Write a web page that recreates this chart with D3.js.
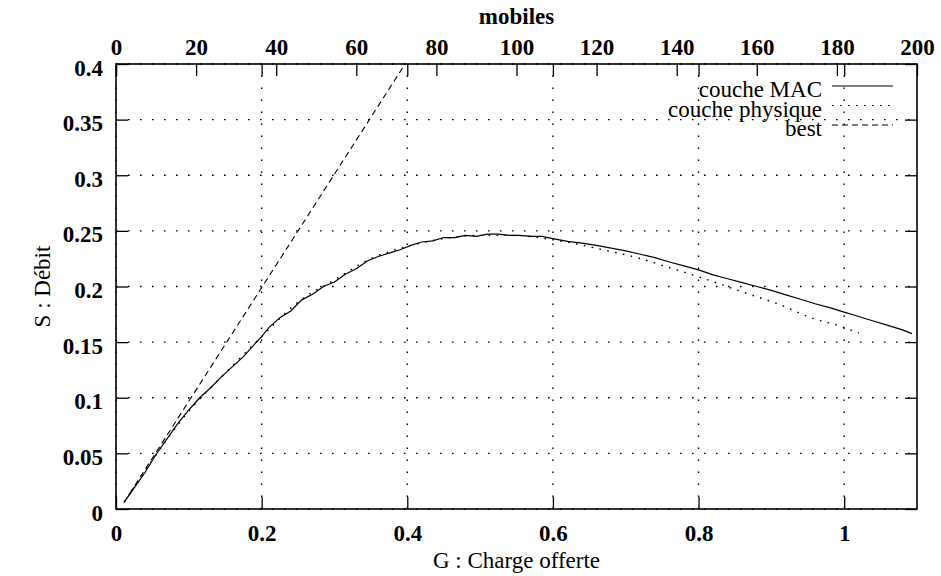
<!DOCTYPE html>
<html>
<head>
<meta charset="utf-8">
<script src="https://cdn.jsdelivr.net/npm/d3@7"></script>
<style>
  html, body { margin: 0; padding: 0; background: #fff; }
  svg { display: block; }
  svg text { font-family: "Liberation Serif", "Times New Roman", Times, Tinos, "Noto Serif", "DejaVu Serif", serif; }
</style>
</head>
<body>
<script>
// Series: [G, S]
const coucheMAC = [
  [0.011, 0.006], [0.025, 0.019], [0.04, 0.033], [0.055, 0.049], [0.07, 0.063],
  [0.085, 0.077], [0.1, 0.089], [0.115, 0.100], [0.13, 0.109], [0.145, 0.119],
  [0.16, 0.128], [0.175, 0.137], [0.19, 0.148], [0.2, 0.155], [0.21, 0.163],
  [0.225, 0.172], [0.24, 0.178], [0.255, 0.188], [0.27, 0.193], [0.285, 0.200],
  [0.3, 0.204], [0.315, 0.211], [0.33, 0.216], [0.345, 0.223], [0.36, 0.227],
  [0.375, 0.230], [0.39, 0.233], [0.405, 0.237], [0.42, 0.240], [0.435, 0.241],
  [0.45, 0.244], [0.465, 0.244], [0.48, 0.246], [0.495, 0.245], [0.51, 0.247],
  [0.525, 0.247], [0.54, 0.246], [0.555, 0.246], [0.57, 0.245], [0.585, 0.245],
  [0.6, 0.243], [0.62, 0.2405], [0.64, 0.239], [0.66, 0.237], [0.68, 0.2345],
  [0.7, 0.232], [0.72, 0.229], [0.74, 0.226], [0.76, 0.222], [0.78, 0.2185],
  [0.8, 0.215], [0.82, 0.2105], [0.84, 0.207], [0.86, 0.2035], [0.88, 0.2],
  [0.9, 0.1965], [0.92, 0.1925], [0.94, 0.1885], [0.96, 0.1845], [0.98, 0.181],
  [1.0, 0.177], [1.02, 0.173], [1.04, 0.169], [1.06, 0.165], [1.08, 0.161],
  [1.093, 0.1576]
];
const couchePhysique = [
  [0.011, 0.006], [0.05, 0.044], [0.1, 0.088], [0.15, 0.122], [0.2, 0.155],
  [0.25, 0.186], [0.3, 0.206], [0.35, 0.225], [0.4, 0.236], [0.45, 0.243],
  [0.5, 0.246], [0.545, 0.246], [0.6, 0.242], [0.669, 0.233], [0.719, 0.2253],
  [0.756, 0.2178], [0.797, 0.2094], [0.82, 0.2043], [0.8657, 0.1939],
  [0.907, 0.1849], [0.957, 0.1714], [0.994, 0.1645], [1.02, 0.1582]
];
const best = [[0.011, 0.006], [0.202, 0.201], [0.397, 0.4]];

// Tick values
const xTicks = [0, 0.2, 0.4, 0.6, 0.8, 1];
const x2Ticks = [0, 20, 40, 60, 80, 100, 120, 140, 160, 180, 200];
const yTicks = [0, 0.05, 0.1, 0.15, 0.2, 0.25, 0.3, 0.35, 0.4];

const legendItems = [
  { label: "couche MAC", dash: null },
  { label: "couche physique", dash: "1.6,6.4" },
  { label: "best", dash: "6,4" }
];

document.addEventListener("DOMContentLoaded", function () {
  const width = 941, height = 576;
  const margin = { left: 116, right: 24, top: 64, bottom: 67 };

  const svg = d3.select("body").append("svg")
    .attr("width", width)
    .attr("height", height);

  svg.append("rect").attr("width", width).attr("height", height).attr("fill", "#fff");

  const x = d3.scaleLinear().domain([0, 1.1]).range([margin.left, width - margin.right]);
  const x2 = d3.scaleLinear().domain([0, 200]).range([margin.left, width - margin.right]);
  const y = d3.scaleLinear().domain([0, 0.4]).range([height - margin.bottom, margin.top]);

  const [x0, x1] = x.range();
  const [yb, yt] = y.range();
  const tick = 12;

  // Dotted grid
  const grid = svg.append("g")
    .attr("stroke", "#000")
    .attr("stroke-width", 1.4)
    .attr("stroke-dasharray", "1.6,10.4");
  grid.selectAll("line.gx").data(xTicks).join("line")
    .attr("x1", d => x(d)).attr("x2", d => x(d))
    .attr("y1", yb).attr("y2", yt);
  grid.selectAll("line.gy").data(yTicks).join("line")
    .attr("x1", x0).attr("x2", x1)
    .attr("y1", d => y(d)).attr("y2", d => y(d));

  // Axes with inward ticks
  const axisStyle = g => {
    g.attr("font-family", null);
    g.select(".domain").remove();
    g.selectAll(".tick line").attr("stroke", "#000").attr("stroke-width", 1.3);
    g.selectAll(".tick text")
      .attr("font-weight", "bold")
      .attr("font-size", 23)
      .attr("fill", "#000");
  };

  svg.append("g")
    .attr("transform", `translate(0,${yb})`)
    .call(d3.axisBottom(x).tickValues(xTicks).tickFormat(d3.format("~g"))
      .tickSizeInner(-tick).tickSizeOuter(0).tickPadding(16))
    .call(axisStyle);

  // mirrored bottom ticks at the top
  svg.append("g")
    .attr("transform", `translate(0,${yt})`)
    .call(d3.axisTop(x).tickValues(xTicks).tickFormat("")
      .tickSizeInner(-tick).tickSizeOuter(0))
    .call(axisStyle);

  svg.append("g")
    .attr("transform", `translate(0,${yt})`)
    .call(d3.axisTop(x2).tickValues(x2Ticks).tickFormat(d3.format("d"))
      .tickSizeInner(-tick).tickSizeOuter(0).tickPadding(9))
    .call(axisStyle);

  svg.append("g")
    .attr("transform", `translate(${x0},0)`)
    .call(d3.axisLeft(y).tickValues(yTicks).tickFormat(d3.format("~g"))
      .tickSizeInner(-tick).tickSizeOuter(0).tickPadding(13))
    .call(axisStyle)
    .call(g => g.selectAll(".tick text").attr("dy", "0.48em"));

  svg.append("g")
    .attr("transform", `translate(${x1},0)`)
    .call(d3.axisRight(y).tickValues(yTicks).tickFormat("")
      .tickSizeInner(-tick).tickSizeOuter(0))
    .call(axisStyle);

  // Border
  svg.append("rect")
    .attr("x", x0).attr("y", yt)
    .attr("width", x1 - x0).attr("height", yb - yt)
    .attr("fill", "none").attr("stroke", "#000").attr("stroke-width", 1.6);

  // Curves
  const line = d3.line().x(d => x(d[0])).y(d => y(d[1]));
  const curves = svg.append("g").attr("fill", "none").attr("stroke", "#000");
  curves.append("path").datum(couchePhysique)
    .attr("d", d3.line().x(d => x(d[0])).y(d => y(d[1])).curve(d3.curveMonotoneX))
    .attr("stroke-width", 1.4).attr("stroke-dasharray", "1.6,6.4");
  curves.append("path").datum(best)
    .attr("d", line)
    .attr("stroke-width", 1.1).attr("stroke-dasharray", "6,4");
  curves.append("path").datum(coucheMAC)
    .attr("d", line)
    .attr("stroke-width", 1.2);

  // Legend
  const legend = svg.append("g");
  const leg = legend.selectAll("g").data(legendItems).join("g")
    .attr("transform", (d, i) => `translate(0,${97 + i * 19.5})`);
  leg.append("text")
    .attr("x", 822).attr("y", 0)
    .attr("text-anchor", "end")
    .attr("font-size", 23)
    .text(d => d.label);
  leg.append("line")
    .attr("x1", 832).attr("x2", 893)
    .attr("y1", -11).attr("y2", -11)
    .attr("stroke", "#000").attr("stroke-width", 1.2)
    .attr("stroke-dasharray", d => d.dash);

  // Axis titles
  svg.append("text")
    .attr("x", (x0 + x1) / 2).attr("y", 568)
    .attr("text-anchor", "middle").attr("font-size", 23)
    .text("G : Charge offerte");
  svg.append("text")
    .attr("x", (x0 + x1) / 2).attr("y", 24)
    .attr("text-anchor", "middle").attr("font-size", 23).attr("font-weight", "bold")
    .text("mobiles");
  svg.append("text")
    .attr("transform", `translate(50,${(yt + yb) / 2}) rotate(-90)`)
    .attr("text-anchor", "middle").attr("font-size", 23)
    .text("S : Débit");
});
</script>
</body>
</html>
